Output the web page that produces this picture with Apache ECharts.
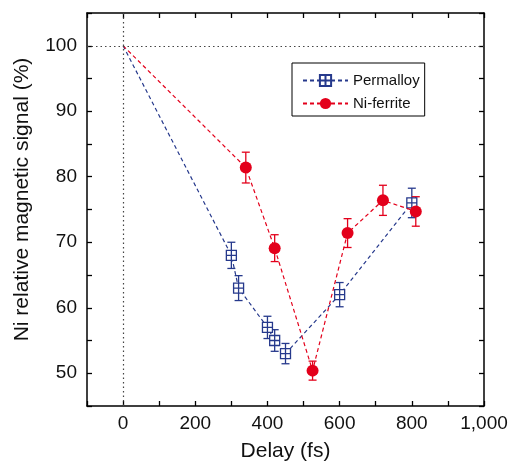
<!DOCTYPE html>
<html><head><meta charset="utf-8">
<script src="https://cdn.jsdelivr.net/npm/echarts@6/dist/echarts.min.js"></script>
<style>html,body{margin:0;padding:0;background:#fff}#c{width:511px;height:467px}</style>
</head><body><div id="c"></div>
<script>
var permDelay = [0, 300, 320, 400, 420, 450, 600, 800];
var permSignal = [100, 68.0, 63.0, 57.0, 55.0, 53.0, 62.0, 76.0];
var permErr = [null, 2.0, 1.9, 1.7, 1.65, 1.55, 1.85, 2.25];
var ferDelay = [0, 340, 420, 525, 622, 720, 811];
var ferSignal = [100, 81.4, 69.1, 50.4, 71.4, 76.4, 74.7];
var ferErr = [null, 2.35, 2.05, 1.45, 2.2, 2.3, 2.25];
var xTicks = [0, 200, 400, 600, 800, 1000];
var yTicks = [50, 60, 70, 80, 90, 100];

var BLUE = '#26398c', RED = '#e3001b';
var FONT = 'Liberation Sans';

function pts(xs, ys, es){
  return xs.map(function(x,i){
    var d = {value:[x, ys[i]]};
    if (es[i] == null) d.symbol = 'none';
    return d;
  });
}
function errs(xs, ys, es){
  var out=[]; xs.forEach(function(x,i){ if(es[i]!=null) out.push([x, ys[i]-es[i], ys[i]+es[i]]); }); return out;
}
function errRender(color){
  return function(params, api){
    var x = api.value(0), lo = api.value(1), hi = api.value(2);
    var a = api.coord([x, hi]), b = api.coord([x, lo]);
    var w = 4;
    var st = {stroke: color, lineWidth: 1.3, fill: null};
    return {type:'group', children:[
      {type:'line', shape:{x1:a[0],y1:a[1],x2:b[0],y2:b[1]}, style:st},
      {type:'line', shape:{x1:a[0]-w,y1:a[1],x2:a[0]+w,y2:a[1]}, style:st},
      {type:'line', shape:{x1:b[0]-w,y1:b[1],x2:b[0]+w,y2:b[1]}, style:st}
    ]};
  };
}
function fmtX(v){ if(xTicks.indexOf(v)<0) return ''; return v>=1000 ? (Math.floor(v/1000)+','+String(v%1000).padStart(3,'0')) : String(v); }
function fmtY(v){ return yTicks.indexOf(v)>=0 ? String(v) : ''; }

var axisCommon = {
  axisLine:{onZero:false, lineStyle:{color:'#000', width:1.5}},
  axisTick:{inside:true, length:5, lineStyle:{color:'#000', width:1.3}},
  splitLine:{show:false}
};

var chart = echarts.init(document.getElementById('c'));
chart.setOption({
  animation:false,
  textStyle:{fontFamily:FONT},
  grid:{left:87, right:27, top:13, bottom:57},
  legend:{
    orient:'vertical', left:292, top:63,
    data:['Permalloy','Ni-ferrite'],
    itemWidth:45, itemHeight:14, itemGap:8,
    padding:[10,5,5,10],
    borderColor:'#000', borderWidth:1,
    textStyle:{fontFamily:FONT, fontSize:15, color:'#111'}
  },
  xAxis:[
    Object.assign({type:'value', min:-100, max:1000, interval:100, position:'bottom',
      name:'Delay (fs)', nameLocation:'middle', nameGap:35,
      nameTextStyle:{fontFamily:FONT, fontSize:21, color:'#111'},
      axisLabel:{formatter:fmtX, fontFamily:FONT, fontSize:19, color:'#111', margin:8, showMinLabel:true, showMaxLabel:true}}, axisCommon),
    Object.assign({type:'value', min:-100, max:1000, interval:100, position:'top',
      axisLabel:{show:false}}, axisCommon)
  ],
  yAxis:[
    Object.assign({type:'value', min:45, max:105, interval:5, position:'left',
      name:'Ni relative magnetic signal (%)', nameLocation:'middle', nameGap:54,
      nameTextStyle:{fontFamily:FONT, fontSize:21, color:'#111', padding:[0,0,0,20]},
      axisLabel:{formatter:fmtY, fontFamily:FONT, fontSize:19, color:'#111', margin:10}}, axisCommon),
    Object.assign({type:'value', min:45, max:105, interval:5, position:'right',
      axisLabel:{show:false}}, axisCommon)
  ],
  series:[
    {name:'Permalloy', type:'line', data:pts(permDelay, permSignal, permErr),
      symbol:'path://M0,0L10,0L10,10L0,10Z M5,0L5,10 M0,5L10,5', symbolSize:10,
      showSymbol:true,
      itemStyle:{color:'#fff', borderColor:BLUE, borderWidth:1.3},
      lineStyle:{color:BLUE, width:1.2, type:[4,3]}, z:3,
      markLine:{silent:true, symbol:'none', label:{show:false},
        lineStyle:{color:'#444', width:1.2, type:[1.5,3]},
        data:[{xAxis:0},{yAxis:100}]}
    },
    {name:'Ni-ferrite', type:'line', data:pts(ferDelay, ferSignal, ferErr),
      symbol:'circle', symbolSize:12,
      itemStyle:{color:RED},
      lineStyle:{color:RED, width:1.2, type:[4,3]}, z:4},
    {type:'custom', renderItem:errRender(BLUE), data:errs(permDelay, permSignal, permErr), z:2, silent:true},
    {type:'custom', renderItem:errRender(RED), data:errs(ferDelay, ferSignal, ferErr), z:2, silent:true}
  ]
});
</script></body></html>
